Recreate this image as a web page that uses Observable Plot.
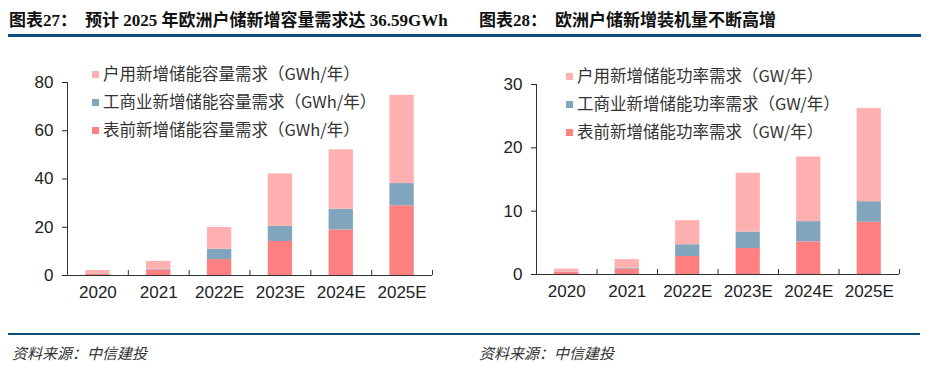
<!DOCTYPE html>
<html><head><meta charset="utf-8">
<script src="https://cdn.jsdelivr.net/npm/d3@7"></script>
<script src="https://cdn.jsdelivr.net/npm/@observablehq/plot@0.6"></script>
<style>
body{margin:0;background:#fff;width:936px;height:370px;position:relative;overflow:hidden;font-family:"Liberation Sans",Arial,"Noto Sans CJK SC",sans-serif;}
.title{position:absolute;top:12px;line-height:18px;font-family:"Liberation Serif","Noto Sans CJK SC",serif;font-weight:bold;font-size:17px;color:#111;white-space:nowrap;}
.title .gap{display:inline-block;width:8px;}
.bar{position:absolute;background:#0d4c7d;}
.src{position:absolute;top:342px;font-family:"Noto Sans CJK SC",sans-serif;font-style:italic;font-size:15px;color:#333;white-space:nowrap;}
.chart{position:absolute;top:40px;}
.legend{position:absolute;font-family:"Noto Sans CJK SC",sans-serif;font-size:16.5px;color:#333;white-space:nowrap;}
.legend .row{position:absolute;left:0;height:20px;line-height:20px;}
.legend .sw{display:inline-block;width:7px;height:7px;margin-right:4px;vertical-align:middle;position:relative;top:-1px;}
</style>
</head><body>
<div class="title" style="left:9px">图表27：<span class="gap"></span>预计 2025 年欧洲户储新增容量需求达 36.59GWh</div>
<div class="title" style="left:479px">图表28：<span class="gap"></span>欧洲户储新增装机量不断高增</div>
<div class="bar" style="left:8px;top:34px;width:913px;height:3px"></div>
<div class="bar" style="left:8px;top:333px;width:912px;height:2px"></div>
<div class="src" style="left:12px">资料来源：中信建投</div>
<div class="src" style="left:479px">资料来源：中信建投</div>
<div id="c1" class="chart" style="left:0px"></div>
<div id="c2" class="chart" style="left:466px"></div>
<div id="l1" class="legend" style="left:92px;top:63px"></div>
<div id="l2" class="legend" style="left:566px;top:65px"></div>
<script>
const years = ["2020", "2021", "2022E", "2023E", "2024E", "2025E"];

const capNames = ["表前新增储能容量需求（GWh/年）", "工商业新增储能容量需求（GWh/年）", "户用新增储能容量需求（GWh/年）"];
const capFront = [0.6, 2.3, 6.6, 14.1, 18.9, 28.9];
const capCI = [0.1, 0.3, 4.3, 6.3, 8.6, 9.2];
const capRes = [1.4, 3.2, 9.0, 21.7, 24.6, 36.59];

const powNames = ["表前新增储能功率需求（GW/年）", "工商业新增储能功率需求（GW/年）", "户用新增储能功率需求（GW/年）"];
const powFront = [0.35, 0.85, 2.85, 4.1, 5.15, 8.25];
const powCI = [0.05, 0.15, 1.85, 2.6, 3.2, 3.25];
const powRes = [0.45, 1.35, 3.8, 9.3, 10.2, 14.7];

const capTicks = [0, 20, 40, 60, 80];
const powTicks = [0, 10, 20, 30];

const colors = ["#ff8080", "#80a5bd", "#ffb0b0"];

function chart(values, names, ticks, m) {
  const rows = [];
  values.forEach((arr, s) => arr.forEach((v, i) => rows.push({i, year: years[i], series: names[s], value: v})));
  const width = 470, height = 270;
  const plotH = height - m.top - m.bottom;
  return Plot.plot({
    width, height,
    marginLeft: m.left, marginRight: m.right, marginTop: m.top, marginBottom: m.bottom,
    x: {domain: [0, years.length], axis: null},
    y: {domain: [ticks[0], ticks[ticks.length - 1]], ticks, tickSize: 5, tickPadding: 9, label: null},
    color: {domain: names, range: colors},
    style: {fontSize: "17px", fontFamily: "'Liberation Sans', Arial, sans-serif", color: "#222", background: "transparent"},
    marks: [
      Plot.rectY(rows, {x1: d => d.i + 0.3, x2: d => d.i + 0.7, y: "value", fill: "series", order: names}),
      Plot.ruleY([0], {stroke: "#333"}),
      Plot.ruleX([0], {stroke: "#333"}),
      Plot.tickX(d3.range(years.length + 1), {x: d => d, insetTop: plotH - 5, stroke: "#333"}),
      Plot.text(years, {x: (d, i) => i + 0.5, frameAnchor: "bottom", dy: 22, text: d => d, fill: "#222", fontSize: 17})
    ]
  });
}

document.getElementById("c1").appendChild(chart([capFront, capCI, capRes], capNames, capTicks, {left: 67, right: 38, top: 42, bottom: 35}));
document.getElementById("c2").appendChild(chart([powFront, powCI, powRes], powNames, powTicks, {left: 70, right: 37, top: 44, bottom: 36}));

function legend(id, names) {
  const el = document.getElementById(id);
  const order = [2, 1, 0];
  order.forEach((s, k) => {
    const r = document.createElement("div");
    r.className = "row";
    r.style.top = (k * 28) + "px";
    r.innerHTML = `<span class="sw" style="background:${colors[s]}"></span>${names[s]}`;
    el.appendChild(r);
  });
}
legend("l1", capNames);
legend("l2", powNames);
</script>
</body></html>
